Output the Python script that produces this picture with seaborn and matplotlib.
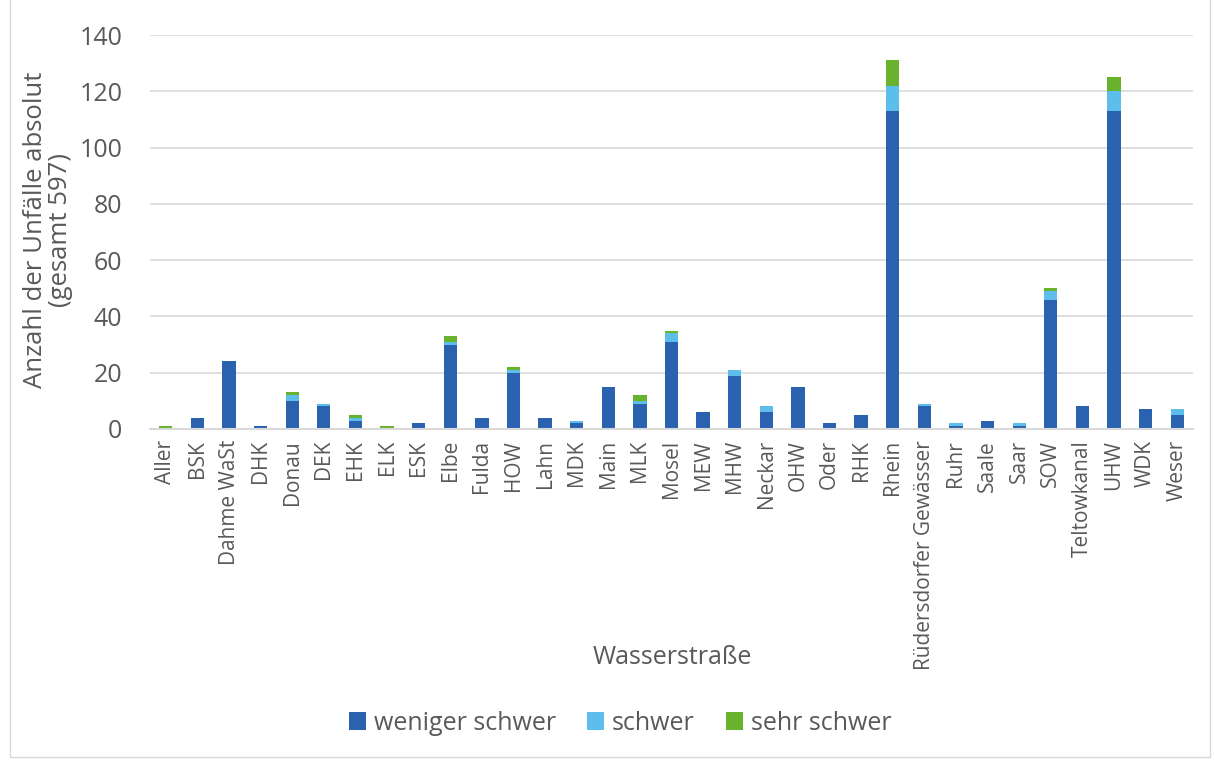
import matplotlib
matplotlib.use("Agg")
import matplotlib.pyplot as plt
from matplotlib.patches import Rectangle, Patch
import seaborn as sns
import pandas as pd

# Accidents per waterway, split by severity
waterways = ["Aller", "BSK", "Dahme WaSt", "DHK", "Donau", "DEK", "EHK", "ELK", "ESK",
             "Elbe", "Fulda", "HOW", "Lahn", "MDK", "Main", "MLK", "Mosel", "MEW",
             "MHW", "Neckar", "OHW", "Oder", "RHK", "Rhein", "Rüdersdorfer Gewässer",
             "Ruhr", "Saale", "Saar", "SOW", "Teltowkanal", "UHW", "WDK", "Weser"]
weniger_schwer = [0, 4, 24, 1, 10, 8, 3, 0, 2, 30, 4, 20, 4, 2, 15, 9, 31, 6,
                  19, 6, 15, 2, 5, 113, 8, 1, 3, 1, 46, 8, 113, 7, 5]
schwer = [0, 0, 0, 0, 2, 1, 1, 0, 0, 1, 0, 1, 0, 1, 0, 1, 3, 0,
          2, 2, 0, 0, 0, 9, 1, 1, 0, 1, 3, 0, 7, 0, 2]
sehr_schwer = [1, 0, 0, 0, 1, 0, 1, 1, 0, 2, 0, 1, 0, 0, 0, 2, 1, 0,
               0, 0, 0, 0, 0, 9, 0, 0, 0, 0, 1, 0, 5, 0, 0]
series_names = ["weniger schwer", "schwer", "sehr schwer"]
colors = ["#2B62B0", "#5DBEEC", "#69B22E"]
yticks = [0, 20, 40, 60, 80, 100, 120, 140]

sns.set_theme(style="white")
plt.rcParams["font.family"] = ["Open Sans", "DejaVu Sans"]
text_color = "#595959"

df = pd.DataFrame({"Wasserstraße": waterways,
                   "weniger schwer": weniger_schwer,
                   "schwer": schwer,
                   "sehr schwer": sehr_schwer})

fig = plt.figure(figsize=(12.14, 7.6), dpi=100)
ax = fig.add_axes([150 / 1214, 1 - 429 / 760, 1043 / 1214, 394 / 760])

# stacked bars: each severity sits on top of the previous ones
bottom = pd.Series([0] * len(df))
for name, col in zip(series_names, colors):
    sns.barplot(data=df, x="Wasserstraße", y=name, color=col, width=0.42,
                bottom=bottom, ax=ax, saturation=1, linewidth=0)
    bottom = bottom + df[name]

ax.set_ylim(0, 140)
ax.set_yticks(yticks)
ax.set_xlim(-0.5, len(waterways) - 0.5)
ax.yaxis.grid(True, color="#D9D9D9", linewidth=1.2)
ax.set_axisbelow(True)
for s in ["top", "right", "left"]:
    ax.spines[s].set_visible(False)
ax.spines["bottom"].set_color("#D9D9D9")
ax.spines["bottom"].set_linewidth(1.5)
ax.tick_params(axis="y", length=0, pad=20, labelsize=18, labelcolor=text_color)
ax.tick_params(axis="x", length=0, pad=8, labelsize=15, labelcolor=text_color)
plt.setp(ax.get_xticklabels(), rotation=90)
ax.set_xlabel("")
ax.set_ylabel("")

fig.text(48 / 1214, 1 - 230 / 760, "Anzahl der Unfälle absolut\n(gesamt 597)",
         rotation=90, ha="center", va="center", fontsize=18.5, color=text_color,
         multialignment="center", linespacing=1.0)
fig.text(672 / 1214, 1 - 657 / 760, "Wasserstraße", ha="center", va="center",
         fontsize=18, color=text_color)

handles = [Patch(facecolor=c, edgecolor="none") for c in colors]
fig.legend(handles, series_names, loc="center", bbox_to_anchor=(620 / 1214, 1 - 723 / 760),
           ncol=3, frameon=False, fontsize=18, handlelength=0.7, handleheight=0.7,
           columnspacing=1.25, handletextpad=0.3, labelcolor=text_color)

fig.patches.append(Rectangle((10 / 1214, 3 / 760), 1200 / 1214, 760 / 760,
                             transform=fig.transFigure, fill=False,
                             edgecolor="#D9D9D9", linewidth=1))

fig.savefig("out.png", dpi=100)
